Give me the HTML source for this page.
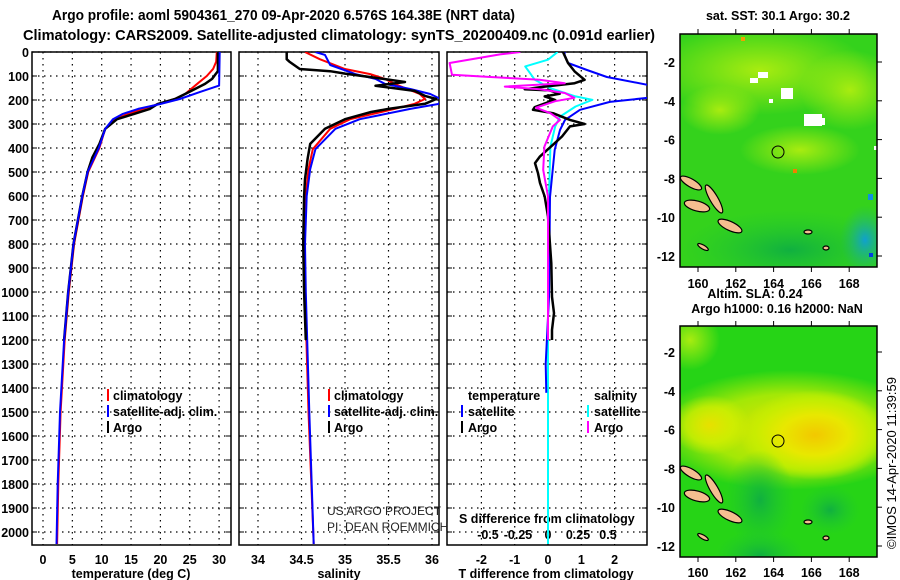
<!DOCTYPE html>
<html><head><meta charset="utf-8"><style>
html,body{margin:0;padding:0;background:#fff;}
svg{display:block;font-family:"Liberation Sans",Arial,sans-serif;}
.b{font-weight:bold;}
</style></head><body>
<svg id="chart" width="900" height="580" viewBox="0 0 900 580" xmlns="http://www.w3.org/2000/svg">
<defs>
<clipPath id="c1"><rect x="32" y="52" width="199" height="493"/></clipPath>
<clipPath id="c2"><rect x="239" y="52" width="200" height="493"/></clipPath>
<clipPath id="c3"><rect x="447" y="52" width="200" height="493"/></clipPath>
<clipPath id="cm1"><rect x="680" y="34" width="197" height="233"/></clipPath>
<clipPath id="cm2"><rect x="680" y="326" width="197" height="231"/></clipPath>
<radialGradient id="gy" cx="0.5" cy="0.5" r="0.5"><stop offset="0" stop-color="#f2c800"/><stop offset="0.45" stop-color="#e8e800"/><stop offset="0.8" stop-color="#c8f000" stop-opacity="0.7"/><stop offset="1" stop-color="#c8f000" stop-opacity="0"/></radialGradient>
<radialGradient id="gy2" cx="0.5" cy="0.5" r="0.5"><stop offset="0" stop-color="#e8e000"/><stop offset="0.6" stop-color="#d8f000" stop-opacity="0.7"/><stop offset="1" stop-color="#d8f000" stop-opacity="0"/></radialGradient>
<radialGradient id="gd" cx="0.5" cy="0.5" r="0.5"><stop offset="0" stop-color="#10b040"/><stop offset="1" stop-color="#20c830" stop-opacity="0"/></radialGradient>
<radialGradient id="gl" cx="0.5" cy="0.5" r="0.5"><stop offset="0" stop-color="#a8ec10"/><stop offset="1" stop-color="#a8ec10" stop-opacity="0"/></radialGradient>
<radialGradient id="gb" cx="0.5" cy="0.5" r="0.5"><stop offset="0" stop-color="#10a0d0"/><stop offset="1" stop-color="#20b870" stop-opacity="0"/></radialGradient>
</defs>

<text class="b" x="52" y="20" font-size="15" textLength="463" lengthAdjust="spacingAndGlyphs">Argo profile: aoml 5904361_270 09-Apr-2020 6.576S 164.38E (NRT data)</text>
<text class="b" x="23" y="40" font-size="15" textLength="632" lengthAdjust="spacingAndGlyphs">Climatology: CARS2009. Satellite-adjusted climatology: synTS_20200409.nc (0.091d earlier)</text>

<g id="frames"></g>

<!-- legends -->
<g font-size="12.5" class="b">
<rect x="107" y="389" width="2" height="12" fill="#f00"/><text x="113" y="400">climatology</text>
<rect x="107" y="405" width="2" height="12" fill="#00f"/><text x="113" y="416">satellite-adj. clim.</text>
<rect x="107" y="421" width="2" height="12" fill="#000"/><text x="113" y="432">Argo</text>
</g>
<g font-size="12.5" class="b">
<rect x="328" y="389" width="2" height="12" fill="#f00"/><text x="334" y="400">climatology</text>
<rect x="328" y="405" width="2" height="12" fill="#00f"/><text x="334" y="416">satellite-adj. clim.</text>
<rect x="328" y="421" width="2" height="12" fill="#000"/><text x="334" y="432">Argo</text>
</g>
<g font-size="12.5" class="b">
<text x="468" y="400">temperature</text><text x="594" y="400">salinity</text>
<rect x="461" y="405" width="2" height="12" fill="#00f"/><text x="468" y="416">satellite</text>
<rect x="461" y="421" width="2" height="12" fill="#000"/><text x="468" y="432">Argo</text>
<rect x="587" y="405" width="2" height="12" fill="#0ff"/><text x="594" y="416">satellite</text>
<rect x="587" y="421" width="2" height="12" fill="#f0f"/><text x="594" y="432">Argo</text>
</g>
<text x="327" y="515" font-size="12" fill="#222">US ARGO PROJECT</text>
<text x="327" y="531" font-size="12" fill="#222">PI: DEAN ROEMMICH</text>
<text class="b" x="459" y="523" font-size="12.5">S difference from climatology</text>

<text class="b" x="131" y="578" font-size="12.5" text-anchor="middle">temperature (deg C)</text>
<text class="b" x="339" y="578" font-size="12.5" text-anchor="middle">salinity</text>
<text class="b" x="546" y="578" font-size="12.5" text-anchor="middle">T difference from climatology</text>

<!-- maps -->
<text class="b" x="778" y="20" font-size="12.5" text-anchor="middle">sat. SST: 30.1 Argo: 30.2</text>
<text class="b" x="755" y="298" font-size="12.5" text-anchor="middle">Altim. SLA: 0.24</text>
<text class="b" x="777" y="313" font-size="12.5" text-anchor="middle">Argo h1000: 0.16 h2000: NaN</text>

<g clip-path="url(#cm1)">
<rect x="680" y="34" width="197" height="233" fill="#34d21c"/>
<ellipse cx="760" cy="70" rx="110" ry="45" fill="url(#gl)"/>
<ellipse cx="850" cy="90" rx="50" ry="40" fill="url(#gl)"/>
<ellipse cx="800" cy="150" rx="60" ry="25" fill="url(#gl)"/>
<ellipse cx="720" cy="110" rx="40" ry="25" fill="url(#gl)"/>
<ellipse cx="790" cy="250" rx="110" ry="40" fill="url(#gd)"/>
<ellipse cx="865" cy="240" rx="25" ry="35" fill="url(#gb)"/>
<rect x="758" y="72" width="10" height="6" fill="#fff"/><rect x="750" y="78" width="8" height="5" fill="#fff"/>
<rect x="781" y="88" width="12" height="11" fill="#fff"/><rect x="769" y="99" width="4" height="4" fill="#fff"/>
<rect x="804" y="114" width="18" height="12" fill="#fff"/><rect x="817" y="118" width="8" height="7" fill="#fff"/>
<rect x="874" y="146" width="3" height="4" fill="#fff"/>
<rect x="741" y="37" width="4" height="4" fill="#f0a000"/><rect x="793" y="169" width="4" height="4" fill="#f08000"/>
<rect x="869" y="253" width="4" height="4" fill="#0040e0"/><rect x="868" y="194" width="5" height="6" fill="#1090e0"/>
<g id="isl1"></g>
<circle cx="778" cy="152" r="6" fill="none" stroke="#000" stroke-width="1"/>
</g>
<rect x="680" y="34" width="197" height="233" fill="none" stroke="#000" stroke-width="1.5"/>

<g clip-path="url(#cm2)">
<rect x="680" y="326" width="197" height="231" fill="#26d416"/>
<ellipse cx="790" cy="430" rx="140" ry="60" fill="url(#gy2)"/>
<ellipse cx="815" cy="435" rx="75" ry="45" fill="url(#gy)"/>
<ellipse cx="710" cy="425" rx="40" ry="30" fill="url(#gy2)"/>
<ellipse cx="760" cy="500" rx="35" ry="50" fill="url(#gd)"/>
<ellipse cx="760" cy="555" rx="45" ry="25" fill="url(#gd)"/>
<ellipse cx="830" cy="510" rx="30" ry="25" fill="url(#gd)"/>
<ellipse cx="690" cy="340" rx="30" ry="30" fill="url(#gl)"/>
<g id="isl2"></g>
<circle cx="778" cy="441" r="6" fill="none" stroke="#000" stroke-width="1"/>
</g>
<rect x="680" y="326" width="197" height="231" fill="none" stroke="#000" stroke-width="1.5"/>
<g id="mapaxes"></g>

<text x="896" y="463" font-size="13" text-anchor="middle" transform="rotate(-90 896 463)">©IMOS 14-Apr-2020 11:39:59</text>

<g id="series"></g>
</svg>
<script>
// ---- data ----
const depthTicks = [0,100,200,300,400,500,600,700,800,900,1000,1100,1200,1300,1400,1500,1600,1700,1800,1900,2000];
const tempTicks = [0,5,10,15,20,25,30];
const salTicks = [34,34.5,35,35.5,36];
const salTickLabels = ["34","34.5","35","35.5","36"];
const tdTicks = [-2,-1,0,1,2];
const sdTicks = [-0.5,-0.25,0,0.25,0.5];
const sdTickLabels = ["-0.5","-0.25","0","0.25","0.5"];

const tClimDepth = [0,40,70,100,130,175,195,215,237,258,280,320,400,500,600,800,1000,1200,1500,1800,2050];
const tClim = [29.6,29.5,29.0,27.9,26.4,24.2,22.5,19.9,17.0,14.5,12.3,10.6,9.6,7.7,6.8,5.3,4.4,3.7,3.0,2.6,2.4];
const tSatDepth = [0,140,167,196,217,237,258,280,320,400,500,600,800,1000,1200,1500,1800,2050];
const tSat = [30.1,30.0,26.7,23.3,19.9,16.2,13.6,11.9,10.6,9.5,7.6,6.7,5.2,4.3,3.6,2.9,2.5,2.3];
const tArgoDepth = [0,80,92,112,133,154,175,196,217,237,258,280,320,383,440,500,600,800,1000,1200];
const tArgo = [29.8,29.8,29.4,28.8,27.6,25.9,24.2,22.5,19.5,18.2,15.5,12.6,10.6,9.6,8.4,7.6,6.7,5.2,4.3,3.6];

const sClimDepth = [0,30,71,92,112,133,175,196,216,237,280,320,405,488,600,800,1000,1500,2050];
const sClim = [34.54,34.71,35.0,35.29,35.46,35.57,35.86,35.92,35.8,35.57,35.06,34.83,34.63,34.58,34.55,34.53,34.54,34.58,34.64];
const sSatDepth = [0,12,54,92,112,133,154,175,196,216,237,280,320,405,488,600,800,1000,1500,2050];
const sSat = [34.66,34.77,34.83,35.12,35.35,35.46,35.75,35.98,36.1,36.08,35.75,35.17,34.89,34.66,34.6,34.56,34.54,34.55,34.59,34.64];
const sArgoDepth = [0,30,40,71,80,90,113,125,141,162,183,196,216,237,250,280,320,383,445,530,600,800,1000,1200];
const sArgo = [34.33,34.33,34.36,34.48,34.83,35.0,35.46,35.69,35.35,35.8,35.92,36.05,35.92,35.5,35.3,35.0,34.77,34.6,34.57,34.54,34.53,34.52,34.53,34.55];

const tdSatDepth = [0,12,46,75,104,137,160,191,208,241,283,325,408,604,1020,1300,1420];
const tdSat = [0.5,0.5,0.6,1.17,1.77,3.0,3.4,3.0,1.86,0.96,0.51,0.36,0.2,0.06,0.03,-0.07,-0.05];
const tdArgoDepth = [0,46,81,116,130,144,155,160,174,185,199,230,241,255,283,300,310,352,380,435,463,505,546,602,685,880,1020,1088,1158,1200];
const tdArgo = [0.45,0.6,0.8,1.1,0.8,-0.1,-0.7,0.05,0.35,-0.1,0.2,-0.4,-0.45,0.15,0.66,1.1,0.66,0.42,0.2,-0.24,-0.39,-0.3,-0.24,-0.1,0,0.1,0.12,0.18,0.12,0.12];
const sdSatDepth = [0,32,60,88,116,151,185,199,227,269,310,394,741,2050];
const sdSat = [0.08,0,-0.19,-0.15,-0.11,0.02,0.23,0.37,0.23,0.1,0.06,0.02,0,0];
const sdArgoDepth = [0,10,46,95,104,116,130,144,155,171,191,205,232,255,283,310,394,491,602,1200];
const sdArgo = [-0.23,-0.4,-0.82,-0.8,-0.48,-0.07,0.14,-0.36,-0.07,0.14,0.22,0.06,-0.1,0.02,0.1,0.04,-0.03,-0.04,0,0];

const latTicks = [-2,-4,-6,-8,-10,-12];
const lonTicks = [160,162,164,166,168];

// ---- scales ----
const NS = 'http://www.w3.org/2000/svg';
const yD = d => 52 + d * 0.24;
const xT = t => 43 + t * 5.87;
const xS = s => 258 + (s - 34) * 87;
const xTD = t => 548 + t * 33.3;
const xSD = s => 548 + s * 120;
const mapX = lon => 698 + (lon - 160) * 18.9;
const mapY1 = lat => 62 + (-2 - lat) * 19.4;
const mapY2 = lat => 352 + (-2 - lat) * 19.4;

function mk(tag, attrs, parent) {
  const e = document.createElementNS(NS, tag);
  for (const k in attrs) e.setAttribute(k, attrs[k]);
  parent.appendChild(e);
  return e;
}
const frames = document.getElementById('frames');
const series = document.getElementById('series');

const panels = [
  {x0:32, x1:231, ticks:tempTicks, labels:tempTicks.map(String), fx:xT, name:'temperature'},
  {x0:239, x1:439, ticks:salTicks, labels:salTickLabels, fx:xS, name:'salinity'},
  {x0:447, x1:647, ticks:tdTicks, labels:tdTicks.map(String), fx:xTD, name:'difference'}
];
panels.forEach(p => {
  const g = mk('g', {}, frames);
  
  
  depthTicks.forEach(d => {
    const l = mk('line', {x1:p.x0, x2:p.x1, y1:yD(d), y2:yD(d), stroke:'#000', 'stroke-width':1.2, 'stroke-dasharray':'1.5,4.5'}, g);
    
    
    mk('line', {x1:p.x0, x2:p.x0+5, y1:yD(d), y2:yD(d), stroke:'#000', 'stroke-width':1}, g);
    mk('line', {x1:p.x1-5, x2:p.x1, y1:yD(d), y2:yD(d), stroke:'#000', 'stroke-width':1}, g);
  });
  p.ticks.forEach((t, i) => {
    const x = p.fx(t);
    const l = mk('line', {x1:x, x2:x, y1:52, y2:545, stroke:'#000', 'stroke-width':1.2, 'stroke-dasharray':'1.5,4.5'}, g);
    
    
    const tx = mk('text', {x:x, y:564, 'font-size':12.5, 'font-weight':'bold', 'text-anchor':'middle'}, g);
    tx.textContent = p.labels[i];
    
    
  });
  const r = mk('rect', {x:p.x0, y:52, width:p.x1-p.x0, height:493, fill:'none', stroke:'#000', 'stroke-width':1.5}, g);
  
  
});
depthTicks.forEach(d => {
  const t = mk('text', {x:29, y:yD(d)+5, 'font-size':12.5, 'font-weight':'bold', 'text-anchor':'end'}, frames);
  t.textContent = String(d);
  
  
});
sdTicks.forEach((s, i) => {
  const t = mk('text', {x:xSD(s), y:539, 'font-size':12.5, 'font-weight':'bold', 'text-anchor':'middle'}, frames);
  t.textContent = sdTickLabels[i];
  
  
});

function drawLine(depths, vals, fx, color, w, clip, name) {
  const pts = depths.map((d, i) => fx(vals[i]).toFixed(1) + ',' + yD(d).toFixed(1)).join(' ');
  const pl = mk('polyline', {points:pts, fill:'none', stroke:color, 'stroke-width':w, 'stroke-linejoin':'round', 'clip-path':'url(#' + clip + ')'}, series);
  
  
}
drawLine(tClimDepth, tClim, xT, '#f00', 2, 'c1', 'temperature-climatology-line');
drawLine(tArgoDepth, tArgo, xT, '#000', 2.5, 'c1', 'temperature-argo-line');
drawLine(tSatDepth, tSat, xT, '#00f', 2, 'c1', 'temperature-satellite-line');
drawLine(sClimDepth, sClim, xS, '#f00', 2, 'c2', 'salinity-climatology-line');
drawLine(sSatDepth, sSat, xS, '#00f', 2, 'c2', 'salinity-satellite-line');
drawLine(sArgoDepth, sArgo, xS, '#000', 2.5, 'c2', 'salinity-argo-line');
drawLine(sdSatDepth, sdSat, xSD, '#0ff', 2, 'c3', 's-difference-satellite-line');
drawLine(tdSatDepth, tdSat, xTD, '#00f', 2, 'c3', 't-difference-satellite-line');
drawLine(tdArgoDepth, tdArgo, xTD, '#000', 2.5, 'c3', 't-difference-argo-line');
drawLine(sdArgoDepth, sdArgo, xSD, '#f0f', 2, 'c3', 's-difference-argo-line');

// islands
const islands = [[691,183,12,4,30],[697,206,13,5,15],[714,199,16,4,60],[730,226,13,4.5,25],[703,247,6,2,30],[808,232,4,2,0],[826,248,3,2,0]];
['isl1','isl2'].forEach((id, k) => {
  const g = document.getElementById(id);
  islands.forEach(s => {
    const cy = s[1] + k * 290;
    const e = mk('ellipse', {cx:s[0], cy:cy, rx:s[2], ry:s[3], fill:'#f5be90', stroke:'#000', 'stroke-width':1.2, transform:'rotate(' + s[4] + ' ' + s[0] + ' ' + cy + ')'}, g);
    
    
  });
});

// map axes
const ma = document.getElementById('mapaxes');
[[mapY1, 34, 267, 283], [mapY2, 326, 557, 572]].forEach(m => {
  latTicks.forEach(lat => {
    const y = m[0](lat);
    mk('line', {x1:877, x2:882, y1:y, y2:y, stroke:'#000'}, ma);
    const t = mk('text', {x:675, y:y+5, 'font-size':12.5, 'font-weight':'bold', 'text-anchor':'end'}, ma);
    t.textContent = String(lat);
    
    
  });
  lonTicks.forEach(lon => {
    const x = mapX(lon);
    mk('line', {x1:x, x2:x, y1:m[1]-5, y2:m[1], stroke:'#000'}, ma);
    mk('line', {x1:x, x2:x, y1:m[2], y2:m[2]+5, stroke:'#000'}, ma);
    const t = mk('text', {x:x, y:m[3]+5, 'font-size':12.5, 'font-weight':'bold', 'text-anchor':'middle'}, ma);
    t.textContent = String(lon);
    
    
  });
});
</script>
</body></html>
